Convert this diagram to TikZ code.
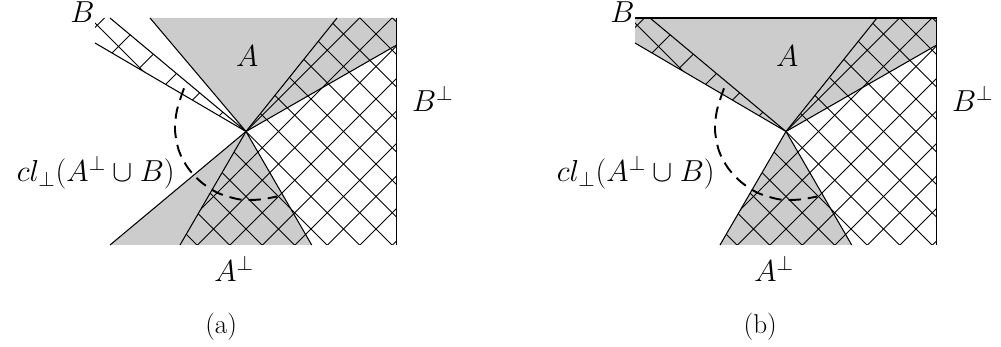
\documentclass[tikz,border=0pt]{standalone}
\usetikzlibrary{calc}
\tikzset{
  edge/.style={line width=0.6pt},
  hatchln/.style={line width=0.5pt},
  fillgray/.style={fill=black!20},
  arcdash/.style={line width=1.1pt, dash pattern=on 7pt off 4pt},
  lbl/.style={inner sep=0pt, font=\LARGE},
  caplbl/.style={inner sep=0pt, font=\fontsize{15.5}{18}\selectfont},
}
\begin{document}
\begin{tikzpicture}[x=0.02cm,y=-0.02cm]
\useasboundingbox (0,0) rectangle (1001,347);

%%%%%%%%%%%%%%%% panel (a)
\coordinate (Ca) at (246,131.5);
\coordinate (BUa) at (110,18);
\coordinate (BLa) at (95,43);
\coordinate (BCa) at (95,18);
\coordinate (ALa) at (150,18);
\coordinate (HUa) at (337,18);
\coordinate (ARa) at (396.7,45);
\coordinate (TRa) at (396.7,18);
\coordinate (BRa) at (396.7,245);
\coordinate (P1a) at (110,245);
\coordinate (P2a) at (180,245);
\coordinate (P3a) at (311.7,245);

\fill[fillgray] (Ca) -- (ALa) -- (TRa) -- (ARa) -- cycle;
\fill[fillgray] (Ca) -- (P1a) -- (P3a) -- cycle;

\begin{scope}
  \clip (Ca) -- (BUa) -- (BCa) -- (BLa) -- cycle;
  \foreach \k in {-9,...,9}{
    \draw[hatchln] ({114.5+42.5*\k},0) -- ({114.5+42.5*\k+260},260);
    \draw[hatchln] ({377.5+42.5*\k},0) -- ({377.5+42.5*\k-260},260);
  }
\end{scope}
\begin{scope}
  \clip (Ca) -- (HUa) -- (TRa) -- (BRa) -- (P2a) -- cycle;
  \foreach \k in {-9,...,9}{
    \draw[hatchln] ({114.5+32.5*\k},0) -- ({114.5+32.5*\k+260},260);
    \draw[hatchln] ({377.5+32.5*\k},0) -- ({377.5+32.5*\k-260},260);
  }
\end{scope}

\draw[edge] (Ca) -- (BUa);
\draw[edge] (Ca) -- (BLa);
\draw[edge] (Ca) -- (ALa);
\draw[edge] (Ca) -- (HUa);
\draw[edge] (Ca) -- (ARa);
\draw[edge] (Ca) -- (P1a);
\draw[edge] (Ca) -- (P2a);
\draw[edge] (Ca) -- (P3a);
\draw[edge] (TRa) -- (BRa);

\draw[arcdash] plot[smooth] coordinates {(184,88.3) (177,110) (175,130) (179,151) (188,168) (201,182) (218,193) (240,199.5) (260,199.5) (277,196.5)};

\node[lbl, anchor=base west] (Blab-a) at (70,22.7) {$B$};
\node[lbl, anchor=base west] (Alab-a) at (235.7,66.7) {$A$};
\node[lbl, anchor=base west] (BPlab-a) at (411.7,111.7) {$B^\perp$};
\node[lbl, anchor=base east] (cl-a) at (175,182) {$cl_\perp(A^\perp\cup B)$};
\node[lbl, anchor=base west] (APlab-a) at (214,281.7) {$A^\perp$};
\node[caplbl, anchor=base west] (cap-a) at (205,333.5) {(a)};

%%%%%%%%%%%%%%%% panel (b)
\begin{scope}[shift={(540,0)}]
\coordinate (Cb) at (246,131.5);
\coordinate (BUb) at (110,18);
\coordinate (BLb) at (95,43);
\coordinate (BCb) at (95,18);
\coordinate (HUb) at (337,18);
\coordinate (ARb) at (396.7,45);
\coordinate (TRb) at (396.7,18);
\coordinate (BRb) at (396.7,245);
\coordinate (P2b) at (180,245);
\coordinate (P3b) at (311.7,245);

\fill[fillgray] (Cb) -- (BLb) -- (BCb) -- (TRb) -- (ARb) -- cycle;
\fill[fillgray] (Cb) -- (P2b) -- (P3b) -- cycle;

\begin{scope}
  \clip (Cb) -- (BUb) -- (BCb) -- (BLb) -- cycle;
  \foreach \k in {-9,...,9}{
    \draw[hatchln] ({114.5+42.5*\k},0) -- ({114.5+42.5*\k+260},260);
    \draw[hatchln] ({377.5+42.5*\k},0) -- ({377.5+42.5*\k-260},260);
  }
\end{scope}
\begin{scope}
  \clip (Cb) -- (HUb) -- (TRb) -- (BRb) -- (P2b) -- cycle;
  \foreach \k in {-9,...,9}{
    \draw[hatchln] ({114.5+32.5*\k},0) -- ({114.5+32.5*\k+260},260);
    \draw[hatchln] ({377.5+32.5*\k},0) -- ({377.5+32.5*\k-260},260);
  }
\end{scope}

\draw[edge] (Cb) -- (BUb);
\draw[edge] (Cb) -- (BLb);
\draw[edge] (Cb) -- (HUb);
\draw[edge] (Cb) -- (ARb);
\draw[edge] (Cb) -- (P2b);
\draw[edge] (Cb) -- (P3b);
\draw[edge] (BCb) -- (TRb) -- (BRb);

\draw[arcdash] plot[smooth] coordinates {(184,88.3) (177,110) (175,130) (179,151) (188,168) (201,182) (218,193) (240,199.5) (260,199.5) (277,196.5)};

\node[lbl, anchor=base west] (Blab-b) at (70,22.7) {$B$};
\node[lbl, anchor=base west] (Alab-b) at (235.7,66.7) {$A$};
\node[lbl, anchor=base west] (BPlab-b) at (411.7,111.7) {$B^\perp$};
\node[lbl, anchor=base east] (cl-b) at (175,182) {$cl_\perp(A^\perp\cup B)$};
\node[lbl, anchor=base west] (APlab-b) at (214,281.7) {$A^\perp$};
\node[caplbl, anchor=base west] (cap-b) at (203.3,333.5) {(b)};
\end{scope}
\end{tikzpicture}
\end{document}
